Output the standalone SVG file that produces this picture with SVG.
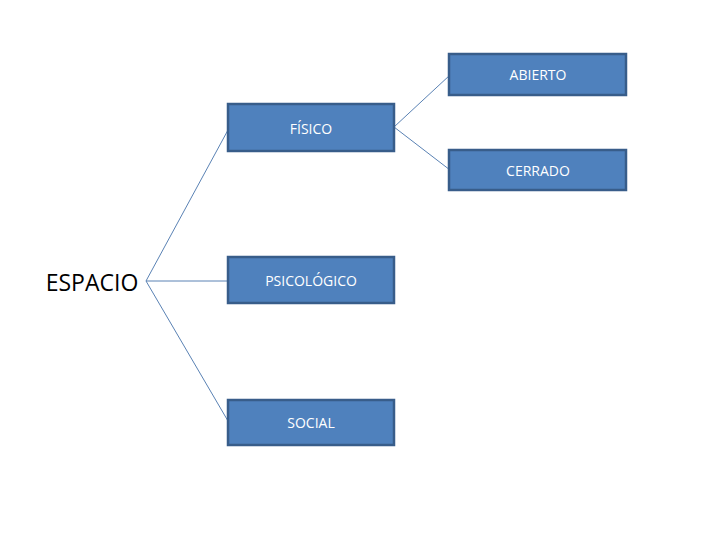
<svg xmlns="http://www.w3.org/2000/svg" width="720" height="540" viewBox="0 0 720 540">
<style>
.box{fill:#4f81bd;stroke:#385d8a;stroke-width:2.5}
.lbl{font-family:"Open Sans","Liberation Sans",sans-serif;font-size:14px;fill:#ffffff;text-anchor:middle}
.conn{stroke:#5a82b4;stroke-width:1;fill:none}
</style>
<rect width="720" height="540" fill="#ffffff"/>
<g id="connectors">
<line class="conn" x1="146" y1="281" x2="228" y2="130"/>
<line class="conn" x1="146" y1="281" x2="228" y2="281"/>
<line class="conn" x1="146" y1="281" x2="228" y2="421"/>
<line class="conn" x1="394" y1="127" x2="450" y2="75"/>
<line class="conn" x1="394" y1="127" x2="450" y2="170"/>
</g>
<g id="espacio">
<text x="92" y="291" style="font-family:'Open Sans','Liberation Sans',sans-serif;font-size:23px;fill:#000000;text-anchor:middle">ESPACIO</text>
</g>
<g id="fisico">
<rect class="box" x="228" y="104" width="166" height="47"/>
<text class="lbl" x="311" y="134">FÍSICO</text>
</g>
<g id="psicologico">
<rect class="box" x="228" y="257" width="166" height="46"/>
<text class="lbl" x="311" y="286">PSICOLÓGICO</text>
</g>
<g id="social">
<rect class="box" x="228" y="400" width="166" height="45"/>
<text class="lbl" x="311" y="428">SOCIAL</text>
</g>
<g id="abierto">
<rect class="box" x="449" y="54" width="177" height="41"/>
<text class="lbl" x="538" y="80">ABIERTO</text>
</g>
<g id="cerrado">
<rect class="box" x="449" y="150" width="177" height="40"/>
<text class="lbl" x="538" y="176">CERRADO</text>
</g>
</svg>
